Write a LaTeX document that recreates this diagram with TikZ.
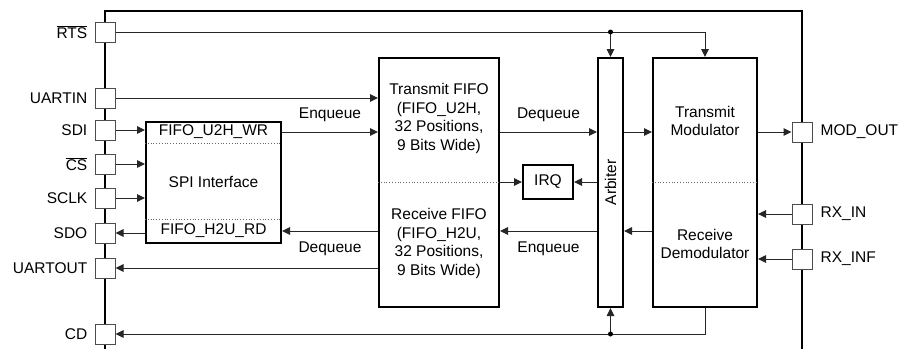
\documentclass[tikz,border=0pt]{standalone}
\usepackage{fontspec}
\setmainfont{Liberation Sans}
\usepackage{tikz}
\usetikzlibrary{arrows.meta,positioning}

\begin{document}
\begin{tikzpicture}[x=1pt, y=-1pt, >={Triangle[length=8pt,width=7.5pt]},
  blk/.style={draw, line width=2pt, fill=white, inner sep=0pt},
  pin/.style={draw=black!70, line width=1pt, fill=white, minimum size=20pt, inner sep=0pt},
  sig/.style={line width=1pt, draw=black!85},
  sep/.style={dotted, line width=0.8pt, draw=black!60},
  frame/.style={line width=2pt},
  tx/.style={font=\fontsize{15.5}{18.5}\selectfont, align=center, inner sep=1pt},
  lbl/.style={font=\fontsize{15.5}{18.5}\selectfont, inner sep=0pt}]
\useasboundingbox (0,0) rectangle (901,349);
\draw[frame] (105,349) -- (105,11) -- (802,11) -- (802,349);

\node[blk, minimum width=135pt, minimum height=121pt] (spi) at (213.5,182.5) {};
\node[blk, minimum width=120pt, minimum height=249pt] (fifo) at (439,182.5) {};
\node[blk, minimum width=50pt, minimum height=34pt] (irq) at (548,182) {};
\node[blk, minimum width=25pt, minimum height=249pt] (arb) at (610.5,182.5) {};
\node[blk, minimum width=104pt, minimum height=249pt] (mod) at (705,182.5) {};

\node[tx] (wr) at (213.5,132) {FIFO\_U2H\_WR};
\node[tx] at (213.5,182) {SPI Interface};
\node[tx] (rd) at (213.5,231) {FIFO\_H2U\_RD};
\draw[sep] (spi.west |- 0,143) -- (spi.east |- 0,143);
\draw[sep] (spi.west |- 0,219) -- (spi.east |- 0,219);
\node[tx] at (439,118.5) {Transmit FIFO\\(FIFO\_U2H,\\32 Positions,\\9 Bits Wide)};
\node[tx] at (439,243.5) {Receive FIFO\\(FIFO\_H2U,\\32 Positions,\\9 Bits Wide)};
\draw[sep] (fifo.west |- irq) -- (fifo.east |- irq);
\node[tx] at (irq) {IRQ};
\node[tx, rotate=90] at (arb) {Arbiter};
\node[tx] at (705,121) {Transmit\\Modulator};
\node[tx] at (705,244) {Receive\\Demodulator};
\draw[sep] (mod.west |- irq) -- (mod.east |- irq);

\node[pin] (rts) at (105,32) {};
\node[pin] (uartin) at (105,98) {};
\node[pin] (sdi) at (105,130) {};
\node[pin] (cs) at (105,164) {};
\node[pin] (sclk) at (105,198) {};
\node[pin] (sdo) at (105,233) {};
\node[pin] (uartout) at (105,268) {};
\node[pin] (cd) at (105,334) {};
\node[pin] (modout) at (802,132) {};
\node[pin] (rxin) at (802,214) {};
\node[pin] (rxinf) at (802,259) {};

\node[lbl, left=7pt of rts] {$\overline{\mbox{RTS}}$};
\node[lbl, left=7pt of uartin] {UARTIN};
\node[lbl, left=7pt of sdi] {SDI};
\node[lbl, left=7pt of cs] {$\overline{\mbox{CS}}$};
\node[lbl, left=7pt of sclk] {SCLK};
\node[lbl, left=7pt of sdo] {SDO};
\node[lbl, left=7pt of uartout] {UARTOUT};
\node[lbl, left=7pt of cd] {CD};
\node[lbl, right=8pt of modout] {MOD\_OUT};
\node[lbl, right=8pt of rxin] {RX\_IN};
\node[lbl, right=8pt of rxinf] {RX\_INF};

\coordinate (rtsj) at (arb.north |- rts);
\coordinate (cdj) at (arb.south |- cd);
\draw[sig, ->] (rts.east) -| (mod.north);
\draw[sig, ->] (rtsj) -- (arb.north);
\fill (rtsj) circle (2.5pt);
\draw[sig, ->] (uartin.east) -- (uartin.east -| fifo.west);
\draw[sig, ->] (sdi.east) -- (sdi.east -| spi.west);
\draw[sig, ->] (cs.east) -- (cs.east -| spi.west);
\draw[sig, ->] (sclk.east) -- (sclk.east -| spi.west);
\draw[sig, ->] (sdo.east -| spi.west) -- (sdo.east);
\draw[sig, ->] (spi.east |- wr) -- (fifo.west |- wr) node[lbl, pos=0.5, above=10pt] {Enqueue};
\draw[sig, ->] (fifo.west |- rd) -- (spi.east |- rd) node[lbl, pos=0.5, below=10pt] {Dequeue};
\draw[sig, ->] (uartout.east -| fifo.west) -- (uartout.east);
\draw[sig, ->] (fifo.east |- modout) -- (arb.west |- modout) node[lbl, pos=0.5, above=10pt] {Dequeue};
\draw[sig, ->] (fifo.east |- irq) -- (irq.west);
\draw[sig, ->] (arb.west |- irq) -- (irq.east);
\draw[sig, ->] (arb.west |- rd) -- (fifo.east |- rd) node[lbl, pos=0.5, below=10pt] {Enqueue};
\draw[sig, ->] (arb.east |- modout) -- (mod.west |- modout);
\draw[sig, ->] (mod.west |- rd) -- (arb.east |- rd);
\draw[sig, ->] (mod.east |- modout) -- (modout.west);
\draw[sig, ->] (rxin.west) -- (rxin.west -| mod.east);
\draw[sig, ->] (rxinf.west) -- (rxinf.west -| mod.east);
\draw[sig, ->] (mod.south) |- (cd.east);
\draw[sig, ->] (cdj) -- (arb.south);
\fill (cdj) circle (2.5pt);
\end{tikzpicture}
\end{document}
